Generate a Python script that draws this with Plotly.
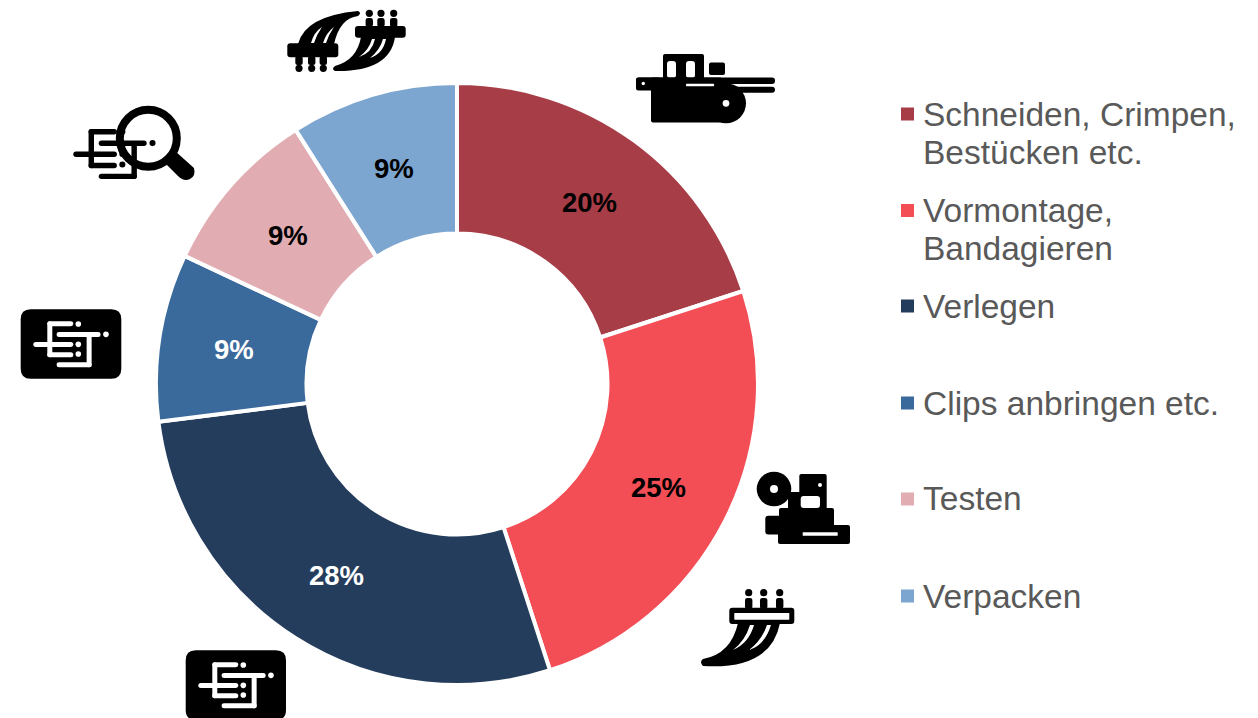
import math
import re
import plotly.graph_objects as go

W, H = 1258, 718

categories = ["Schneiden, Crimpen, Bestücken etc.", "Vormontage, Bandagieren", "Verlegen",
              "Clips anbringen etc.", "Testen", "Verpacken"]
values = [20, 25, 28, 9, 9, 9]
colors = ["#A73D47", "#F34E56", "#243D5C", "#3A6A9C", "#E2ADB2", "#7CA5CF"]
label_colors = ["black", "black", "white", "white", "black", "black"]
legend_lines = [["Schneiden, Crimpen,", "Bestücken etc."], ["Vormontage,", "Bandagieren"], ["Verlegen"],
                ["Clips anbringen etc."], ["Testen"], ["Verpacken"]]

CX, CY, R = 457, 384, 301
HOLE = 0.5

fig = go.Figure(go.Pie(
    labels=categories, values=values, sort=False, direction="clockwise", rotation=0,
    hole=HOLE, marker=dict(colors=colors, line=dict(color="white", width=4)),
    textinfo="none", showlegend=False,
    domain=dict(x=[(CX - R) / W, (CX + R) / W], y=[(H - CY - R) / H, (H - CY + R) / H]),
))

shapes, annotations = [], []
px = lambda x: x / W
py = lambda y: (H - y) / H

# percentage labels sit on the middle of the ring, at each slice's mid angle
total = sum(values)
cum = 0
for v, col in zip(values, label_colors):
    ang = 2 * math.pi * (cum + v / 2) / total
    cum += v
    rm = R * (1 + HOLE) / 2
    annotations.append(dict(text=f"<b>{v}%</b>", xref="paper", yref="paper",
                            x=px(CX + rm * math.sin(ang)), y=py(CY - rm * math.cos(ang) + 1),
                            xanchor="center", yanchor="middle", showarrow=False,
                            font=dict(family="Liberation Sans", size=27.5, color=col)))


def path(d, color="black"):
    toks = re.findall(r"[A-Za-z]|-?[\d.]+", d)
    out, is_x = [], True
    for t in toks:
        if t.isalpha():
            out.append(t)
            is_x = True
        else:
            out.append(f"{px(float(t)) if is_x else py(float(t)):.5f}")
            is_x = not is_x
    shapes.append(dict(type="path", xref="paper", yref="paper", path=" ".join(out),
                       fillcolor=color, line=dict(width=0), layer="above"))


def rrect(x0, y0, x1, y1, r=1.5, color="black"):
    r = min(r, (x1 - x0) / 2, (y1 - y0) / 2)
    path(f"M {x0 + r} {y0} L {x1 - r} {y0} Q {x1} {y0} {x1} {y0 + r} L {x1} {y1 - r} Q {x1} {y1} {x1 - r} {y1} "
         f"L {x0 + r} {y1} Q {x0} {y1} {x0} {y1 - r} L {x0} {y0 + r} Q {x0} {y0} {x0 + r} {y0} Z", color)


def circle(cx, cy, r, color="black", fill=True, lw=0):
    shapes.append(dict(type="circle", xref="paper", yref="paper", x0=px(cx - r), x1=px(cx + r),
                       y0=py(cy + r), y1=py(cy - r), layer="above",
                       fillcolor=color if fill else "rgba(0,0,0,0)",
                       line=dict(width=lw, color=color)))


def glyph(ox, oy, s, color):
    """Cable-layout glyph, measured on a 3x grid with its origin at the left/top end."""
    X = lambda v: ox + v * s / 3
    Y = lambda v: oy + v * s / 3
    t = 15
    bars = [(42, -1, 120, t - 1), (70, 31, 202, 31 + t), (0, 61, 120, 61 + t), (42, 92, 120, 92 + t),
            (70, 122, 175, 122 + t), (42, -1, 57, 107), (160, 38, 175, 137)]
    for a, b, c, d in bars:
        rrect(X(a), Y(b), X(c), Y(d), 2.5 * s, color)
    for a, b in [(135, 7), (218, 38), (135, 68), (135, 97)]:
        circle(X(a), Y(b), 2.8 * s, color)


def bundle(rect, inner, dots, wedge, slits):
    rrect(*rect, 3)
    if inner:
        rrect(*inner, 0.5, "white")
    for x, y, ys in dots:
        circle(x, y, 3.6)
        rrect(x - 3.7, min(ys), x + 3.7, max(ys), 2.5)
    path(wedge)
    for s in slits:
        path(s, "white")


# machine (top right)
rrect(663, 54, 704, 79, 2)
rrect(667, 61, 676, 78, 3, "white")
rrect(686, 61, 695, 78, 3, "white")
rrect(709, 62.5, 725, 75, 2)
rrect(636, 77.5, 775, 84, 3)
rrect(636, 77.5, 660, 90.5, 2.5)
rrect(651, 77.5, 722, 122.5, 2)
rrect(730, 86.7, 775, 92.7, 3)
circle(643.3, 83.5, 1.7, "white")
rrect(686, 83.8, 714, 86.3, 0.5, "white")
circle(726, 103.3, 20)
circle(726, 103.3, 3.4, "white")

# press (right)
circle(774, 489, 17.3)
circle(774, 489, 4, "white")
rrect(788, 492, 802, 510, 0)
rrect(799.3, 474, 826.7, 512, 2)
circle(820, 485, 2, "white")
rrect(800.7, 496, 820, 508, 3, "white")
rrect(779, 508, 834, 530, 2)
rrect(765.3, 515.7, 792, 534.5, 3)
rrect(778, 525, 850, 544, 2)
rrect(802.7, 532.3, 837.7, 535.7, 0.5, "white")

# wire bundle (lower right)
bundle((729.3, 607.7, 794.3, 624), (734.3, 613, 789.3, 619.7),
       [(748.7, 592.7, (598, 609)), (763.7, 592.7, (598, 609)), (779.7, 592.7, (598, 609))],
       "M 738 623 Q 731 654 703 659 Q 699 662 703 666 Q 771 670 780 623 Z",
       ["M 750 625 Q 745 641 733 650 Q 749 643 754 625 Z", "M 767 625 Q 762 640 749 650 Q 765 645 771 625 Z"])

# bundle pair (top)
bundle((355, 26, 405.7, 37.7), None,
       [(369.3, 13.3, (18, 27)), (381, 13.3, (18, 27)), (393.7, 13.3, (18, 27))],
       "M 361 37 Q 357 60 335 66 Q 331 69 335 71 Q 390 72 395 37 Z",
       ["M 372 39 Q 369 50 359 57 Q 372 53 375 39 Z", "M 383 39 Q 380 50 370 58 Q 383 54 386 39 Z"])
bundle((287.3, 43.3, 338.3, 57.3), None,
       [(299, 68.3, (56, 65)), (311.7, 68.3, (56, 65)), (323.3, 68.3, (56, 65))],
       "M 298 44 Q 305 16 358 11 Q 362 13 358 16 Q 340 18 334 44 Z",
       ["M 311 43 Q 314 32 322 27 Q 317 34 314 43 Z", "M 323 43 Q 326 33 334 27 Q 329 34 326 43 Z"])

# rounded glyph boxes
rrect(20.7, 309.3, 121.3, 378.7, 10)
glyph(33.3, 321.7, 1, "white")
rrect(185.7, 650.3, 286, 720, 10)
glyph(198.3, 662.7, 1, "white")

# magnifier with glyph
glyph(73.3, 129.3, 1.09, "black")
circle(148.3, 138.3, 28.5, "black", fill=False, lw=8)
path("M 165 163 L 175 151 L 194 168 Q 196 176 190 179 Q 184 182 178 176 Z")

# legend drawn to the picture's uneven spacing
legend_y = [[114, 152], [210.5, 248], [306], [403], [499], [596]]
for lines, ys, col in zip(legend_lines, legend_y, colors):
    rrect(901, ys[0] - 6.5, 914, ys[0] + 6.5, 0, col)
    for line, y in zip(lines, ys):
        annotations.append(dict(text=line, xref="paper", yref="paper", x=px(920.5), y=py(y), xanchor="left",
                                yanchor="middle", showarrow=False,
                                font=dict(family="Liberation Sans", size=33.5, color="#595959")))

fig.update_layout(width=W, height=H, margin=dict(l=0, r=0, t=0, b=0), paper_bgcolor="white",
                  plot_bgcolor="white", shapes=shapes, annotations=annotations)
fig.write_html("out.html", config=dict(displayModeBar=False),
               post_script="document.body.style.margin='0';document.body.style.overflow='hidden';")
